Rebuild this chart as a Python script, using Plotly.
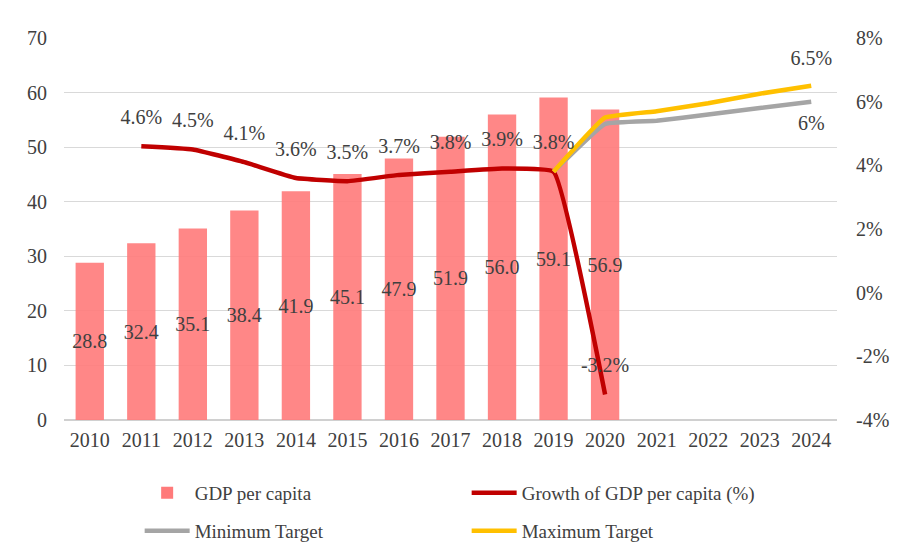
import plotly.graph_objects as go

years = [str(y) for y in range(2010, 2025)]
gdp_years = years[:11]
gdp_per_capita = [28.8, 32.4, 35.1, 38.4, 41.9, 45.1, 47.9, 51.9, 56.0, 59.1, 56.9]

growth_years = years[1:11]
growth = [4.6, 4.5, 4.1, 3.6, 3.5, 3.7, 3.8, 3.9, 3.8, -3.2]

target_years = years[9:]
min_target = [3.8, 5.3, 5.4, 5.6, 5.8, 6.0]
max_target = [3.8, 5.5, 5.7, 5.95, 6.25, 6.5]

left_ticks = [0, 10, 20, 30, 40, 50, 60, 70]
right_ticks = [-4, -2, 0, 2, 4, 6, 8]
right_tick_labels = ["-4%", "-2%", "0%", "2%", "4%", "6%", "8%"]

FONT = "Liberation Serif"
TXT = "#404040"
LABEL_FONT = dict(family=FONT, size=20, color=TXT)
CLEAR = "rgba(0,0,0,0)"

fig = go.Figure()

fig.add_trace(go.Bar(
    x=gdp_years, y=gdp_per_capita, name="GDP per capita",
    marker=dict(color="#ff7a7a", opacity=0.9, line=dict(width=0)),
    width=0.55,
    text=[f"{v:.1f}" for v in gdp_per_capita],
    textposition="inside", insidetextanchor="middle",
    constraintext="none", textangle=0, cliponaxis=False,
    textfont=LABEL_FONT,
    legend="legend",
))

fig.add_trace(go.Scatter(
    x=growth_years, y=growth, name="Growth of GDP per capita (%)",
    mode="lines", yaxis="y2", legend="legend",
    line=dict(color="#c00000", width=4.5, shape="spline", smoothing=0.3),
))
fig.add_trace(go.Scatter(
    x=target_years, y=min_target, name="Minimum Target",
    mode="lines", yaxis="y2", legend="legend2",
    line=dict(color="#a5a5a5", width=4.5, shape="spline", smoothing=0.3),
))
fig.add_trace(go.Scatter(
    x=target_years, y=max_target, name="Maximum Target",
    mode="lines", yaxis="y2", legend="legend2",
    line=dict(color="#ffc000", width=4.5, shape="spline", smoothing=0.3),
))

# value labels for the lines (transparent markers push the text off the line)
fig.add_trace(go.Scatter(
    x=growth_years, y=growth, yaxis="y2", mode="markers+text",
    text=[f"{v:g}%" for v in growth], textposition="top center",
    textfont=LABEL_FONT, marker=dict(size=26, color=CLEAR),
    showlegend=False, hoverinfo="skip", cliponaxis=False,
))
fig.add_trace(go.Scatter(
    x=target_years[-1:], y=max_target[-1:], yaxis="y2", mode="markers+text",
    text=[f"{max_target[-1]:g}%"], textposition="top center",
    textfont=LABEL_FONT, marker=dict(size=24, color=CLEAR),
    showlegend=False, hoverinfo="skip", cliponaxis=False,
))
fig.add_trace(go.Scatter(
    x=target_years[-1:], y=min_target[-1:], yaxis="y2", mode="markers+text",
    text=[f"{min_target[-1]:g}%"], textposition="bottom center",
    textfont=LABEL_FONT, marker=dict(size=20, color=CLEAR),
    showlegend=False, hoverinfo="skip", cliponaxis=False,
))

legend_common = dict(
    orientation="h", xref="container", yref="container",
    xanchor="left", yanchor="middle", entrywidth=267,
    traceorder="normal", bgcolor=CLEAR, itemwidth=45,
    font=dict(family=FONT, size=19, color=TXT),
)

fig.update_layout(
    width=901, height=554,
    margin=dict(l=64, r=56, t=38, b=134),
    paper_bgcolor="white", plot_bgcolor="white",
    font=dict(family=FONT, size=19, color=TXT),
    showlegend=True,
    legend=dict(legend_common, x=0.155, y=1 - 493 / 554),
    legend2=dict(legend_common, x=0.155, y=1 - 531 / 554),
    xaxis=dict(
        type="category", categoryarray=years, categoryorder="array",
        range=[-0.5, 14.5], showgrid=False, showline=False, ticks="",
        tickfont=dict(family=FONT, size=20, color=TXT),
        ticklabelstandoff=6,
    ),
    yaxis=dict(
        range=[0, 70], tickvals=left_ticks, showgrid=True,
        gridcolor="#d9d9d9", gridwidth=1, zeroline=True,
        zerolinecolor="#d0d0d0", showline=False, ticks="",
        tickfont=dict(family=FONT, size=20, color=TXT),
        ticklabelstandoff=16,
    ),
    yaxis2=dict(
        range=[-4, 8], tickvals=right_ticks, ticktext=right_tick_labels,
        overlaying="y", side="right",
        showgrid=False, zeroline=False, showline=False, ticks="",
        tickfont=dict(family=FONT, size=20, color=TXT),
        ticklabelstandoff=18,
    ),
)

fig.write_html("out.html")
